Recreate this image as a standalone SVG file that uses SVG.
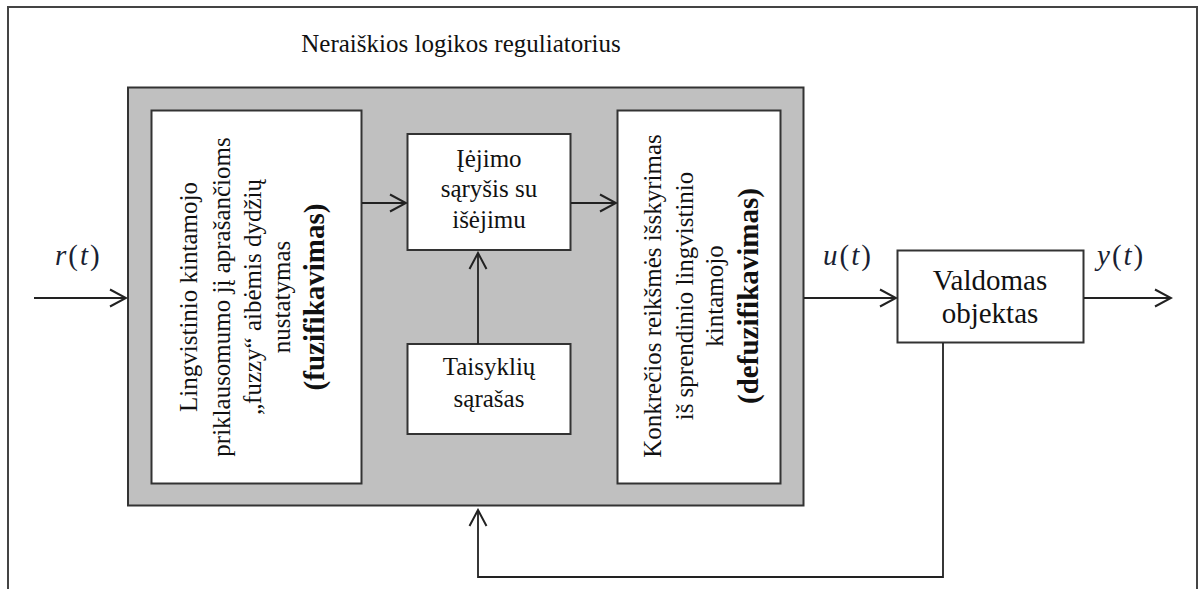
<svg xmlns="http://www.w3.org/2000/svg" width="1200" height="589" viewBox="0 0 1200 589">
<defs>
<style>
.t{font-size:25px;fill:#111;text-anchor:middle}
.b{font-weight:bold;font-size:29px}
.m{font-size:29px;fill:#1a1f33;letter-spacing:2px}
.i{font-style:italic}
.box{fill:#fff;stroke:#333;stroke-width:2}
.c{fill:none;stroke:#222;stroke-width:1.8}
</style>
<marker id="arr" viewBox="-18 -10 20 20" refX="0" refY="0" markerWidth="20" markerHeight="20" markerUnits="userSpaceOnUse" orient="auto">
<path d="M-16,-8.5 L0,0 L-16,8.5" fill="none" stroke="#222" stroke-width="2"/>
</marker>
</defs>
<rect x="0" y="0" width="1200" height="589" fill="#fff"/>
<path d="M8,600 V7 H1197 V600" fill="none" stroke="#444" stroke-width="2"/>

<g id="regulator">
<rect x="128" y="87.5" width="675.5" height="418" fill="#c0c0c0" stroke="#333" stroke-width="2"/>
<text class="t" font-family="Liberation Serif, serif" x="461" y="52">Neraiškios logikos reguliatorius</text>
</g>

<g id="fuzzification">
<rect class="box" x="151.5" y="110.5" width="210" height="373"/>
<g transform="translate(0,297) rotate(-90)">
<text class="t" font-family="Liberation Serif, serif" x="0" y="197">Lingvistinio kintamojo</text>
<text class="t" font-family="Liberation Serif, serif" x="0" y="230">priklausomumo jį aprašančioms</text>
<text class="t" font-family="Liberation Serif, serif" x="0" y="261">„fuzzy“ aibėmis dydžių</text>
<text class="t" font-family="Liberation Serif, serif" x="0" y="290">nustatymas</text>
<text class="t b" font-family="Liberation Serif, serif" x="0" y="324">(fuzifikavimas)</text>
</g>
</g>

<g id="inference">
<rect class="box" x="407.5" y="134" width="163" height="116"/>
<text class="t" font-family="Liberation Serif, serif" x="489" y="167">Įėjimo</text>
<text class="t" font-family="Liberation Serif, serif" x="489" y="197">sąryšis su</text>
<text class="t" font-family="Liberation Serif, serif" x="489" y="228">išėjimu</text>
</g>

<g id="rules">
<rect class="box" x="407.5" y="344" width="163" height="90"/>
<text class="t" font-family="Liberation Serif, serif" x="489" y="375">Taisyklių</text>
<text class="t" font-family="Liberation Serif, serif" x="489" y="407">sąrašas</text>
</g>

<g id="defuzzification">
<rect class="box" x="617.5" y="110.5" width="163" height="373"/>
<g transform="translate(0,296) rotate(-90)">
<text class="t" font-family="Liberation Serif, serif" x="0" y="661">Konkrečios  reikšmės išskyrimas</text>
<text class="t" font-family="Liberation Serif, serif" x="0" y="693">iš sprendinio lingvistinio</text>
<text class="t" font-family="Liberation Serif, serif" x="0" y="723">kintamojo</text>
<text class="t b" font-family="Liberation Serif, serif" x="0" y="758">(defuzifikavimas)</text>
</g>
</g>

<g id="plant">
<rect class="box" x="897.5" y="250.5" width="186" height="92"/>
<text class="t" font-family="Liberation Serif, serif" x="990" y="290" style="font-size:29px">Valdomas</text>
<text class="t" font-family="Liberation Serif, serif" x="990" y="323" style="font-size:29px">objektas</text>
</g>

<g id="labels">
<text class="m" font-family="Liberation Serif, serif" x="55" y="265"><tspan class="i">r</tspan>(<tspan class="i">t</tspan>)</text>
<text class="m" font-family="Liberation Serif, serif" x="823" y="265"><tspan class="i">u</tspan>(<tspan class="i">t</tspan>)</text>
<text class="m" font-family="Liberation Serif, serif" x="1097" y="265"><tspan class="i">y</tspan>(<tspan class="i">t</tspan>)</text>
</g>

<g id="connectors">
<line class="c" x1="34" y1="298" x2="126" y2="298" marker-end="url(#arr)"/>
<line class="c" x1="362" y1="203" x2="406" y2="203" marker-end="url(#arr)"/>
<line class="c" x1="571" y1="203" x2="616" y2="203" marker-end="url(#arr)"/>
<line class="c" x1="478" y1="344" x2="478" y2="253" marker-end="url(#arr)"/>
<line class="c" x1="804" y1="298" x2="896" y2="298" marker-end="url(#arr)"/>
<line class="c" x1="1084" y1="298" x2="1171" y2="298" marker-end="url(#arr)"/>
<path class="c" d="M943,343 V577 H478 V510" marker-end="url(#arr)"/>
</g>
</svg>
